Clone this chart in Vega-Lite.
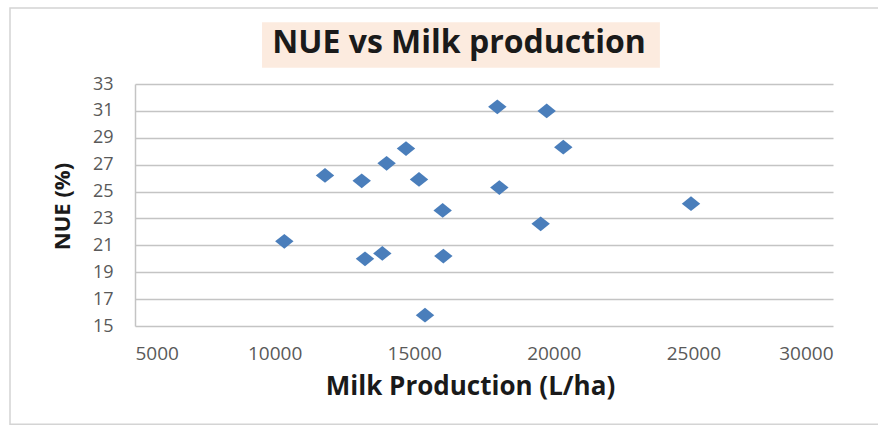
{
  "$schema": "https://vega.github.io/schema/vega-lite/v6.json",
  "autosize": {"type": "none"},
  "width": 698,
  "height": 242,
  "padding": {"left": 135, "top": 84, "right": 45, "bottom": 101},
  "background": "#ffffff",
  "title": {
    "text": "NUE vs Milk production",
    "font": "Open Sans",
    "fontSize": 32,
    "fontWeight": "bold",
    "color": "#1a1a1a",
    "anchor": "middle",
    "baseline": "alphabetic",
    "dx": -25,
    "offset": -78
  },
  "datasets": {
    "farms": [
      {"milk": 10348, "nue": 21.3},
      {"milk": 11805, "nue": 26.2},
      {"milk": 13120, "nue": 25.8},
      {"milk": 13238, "nue": 20.0},
      {"milk": 13858, "nue": 20.4},
      {"milk": 14011, "nue": 27.1},
      {"milk": 14706, "nue": 28.2},
      {"milk": 15172, "nue": 25.9},
      {"milk": 15387, "nue": 15.8},
      {"milk": 16020, "nue": 23.6},
      {"milk": 16044, "nue": 20.2},
      {"milk": 17977, "nue": 31.3},
      {"milk": 18050, "nue": 25.3},
      {"milk": 19529, "nue": 22.6},
      {"milk": 19745, "nue": 31.0},
      {"milk": 20340, "nue": 28.3},
      {"milk": 24914, "nue": 24.1}
    ]
  },
  "layer": [
    {
      "data": {"values": [{}]},
      "mark": {"type": "rect", "fill": null, "stroke": "#d4d4d4", "strokeWidth": 1.5},
      "encoding": {
        "x": {"datum": 523, "type": "quantitative", "title": "Milk Production (L/ha)", "axis": {"values": [5000, 10000, 15000, 20000, 25000, 30000]}},
        "x2": {"datum": 31900},
        "y": {"datum": 38.65, "type": "quantitative", "title": "NUE (%)", "axis": {"values": [15, 17, 19, 21, 23, 25, 27, 29, 31, 33]}},
        "y2": {"datum": 7.7}
      }
    },
    {
      "data": {"values": [{}]},
      "mark": {"type": "rect", "fill": "#fcebdf"},
      "encoding": {
        "x": {"datum": 9550, "type": "quantitative", "title": "Milk Production (L/ha)", "axis": {"values": [5000, 10000, 15000, 20000, 25000, 30000]}},
        "x2": {"datum": 23800},
        "y": {"datum": 37.6, "type": "quantitative", "title": "NUE (%)", "axis": {"values": [15, 17, 19, 21, 23, 25, 27, 29, 31, 33]}},
        "y2": {"datum": 34.2}
      }
    },
    {
      "data": {"name": "farms"},
      "mark": {
        "type": "point",
        "shape": "M-1,0L0,-0.8L1,0L0,0.8Z",
        "filled": true,
        "size": 340,
        "color": "#4a7ebb",
        "opacity": 1
      },
      "encoding": {
        "x": {
          "field": "milk",
          "type": "quantitative",
          "title": "Milk Production (L/ha)",
          "scale": {"domain": [5000, 30000], "nice": false, "zero": false},
          "axis": {"values": [5000, 10000, 15000, 20000, 25000, 30000]}
        },
        "y": {
          "field": "nue",
          "type": "quantitative",
          "title": "NUE (%)",
          "scale": {"domain": [15, 33], "nice": false, "zero": false},
          "axis": {"values": [15, 17, 19, 21, 23, 25, 27, 29, 31, 33]}
        }
      }
    }
  ],
  "config": {
    "view": {"stroke": null},
    "axis": {
      "ticks": false,
      "labelOverlap": false,
      "labelFont": "Open Sans",
      "labelColor": "#595959",
      "titleFont": "Open Sans",
      "titleFontWeight": "bold",
      "titleColor": "#1a1a1a"
    },
    "axisX": {
      "format": "d",
      "grid": false,
      "domain": false,
      "labelPadding": 18,
      "labelFontSize": 19,
      "titleFontSize": 26,
      "titleX": 335,
      "titleY": 68,
      "titleAlign": "center",
      "titleBaseline": "alphabetic"
    },
    "axisY": {
      "grid": true,
      "gridColor": "#c4c4c4",
      "gridWidth": 1.5,
      "domain": true,
      "domainColor": "#c4c4c4",
      "domainWidth": 1.5,
      "labelPadding": 22,
      "labelFontSize": 18,
      "titleFontSize": 22,
      "titleAngle": -90,
      "titleX": -73,
      "titleY": 122,
      "titleAlign": "center",
      "titleBaseline": "middle"
    }
  }
}
